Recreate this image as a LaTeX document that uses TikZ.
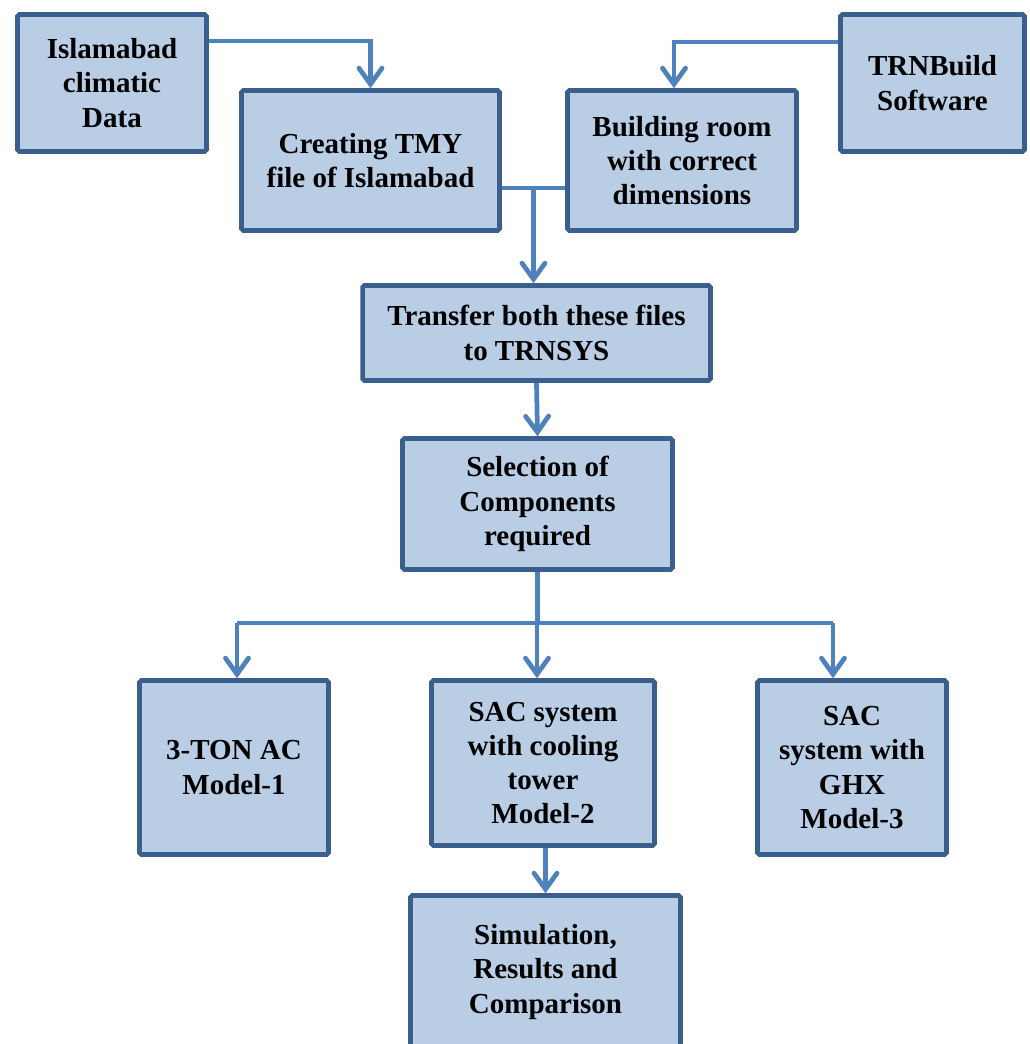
\documentclass[tikz,border=0pt]{standalone}
\usepackage{fontspec}
\setmainfont{Liberation Serif}
\usepackage{xcolor}
\usepackage{tikz}
\usetikzlibrary{arrows.meta,calc}
\definecolor{boxfill}{HTML}{B9CDE5}
\definecolor{boxline}{HTML}{3A5F8C}
\definecolor{linkblue}{HTML}{4F81BD}

\begin{document}
\begin{tikzpicture}[x=0.02cm,y=-0.02cm,
  box/.style={draw=boxline,fill=boxfill,line width=2.6pt,rounded corners=1pt,align=center,inner sep=0pt,
    font=\bfseries\fontsize{16.5}{19.5}\selectfont},
  link/.style={draw=linkblue,line width=2.7pt},
  flow/.style={link,-{Straight Barb[length=0.32cm,width=0.46cm,line cap=round]}}]
  \useasboundingbox (0,0) rectangle (1029,1044);
  \node[box,minimum width=3.78cm,minimum height=2.74cm] (data) at (112,83) {Islamabad\\climatic\\Data};
  \node[box,minimum width=5.16cm,minimum height=2.80cm] (tmy) at (370.5,160.5) {Creating TMY\\file of Islamabad};
  \node[box,minimum width=4.58cm,minimum height=2.80cm] (room) at (682,160.5) {Building room\\with correct\\dimensions};
  \node[box,minimum width=3.68cm,minimum height=2.74cm] (trn) at (932.5,83) {TRNBuild\\Software};
  \node[box,minimum width=6.96cm,minimum height=1.90cm] (transfer) at (536.5,333) {Transfer both these files\\to TRNSYS};
  \node[box,minimum width=5.40cm,minimum height=2.62cm] (select) at (537.5,504) {Selection of\\Components\\required};
  \node[box,minimum width=3.78cm,minimum height=3.48cm] (m1) at (234,767.5) {3-TON AC\\Model-1};
  \node[box,minimum width=4.46cm,minimum height=3.30cm] (m2) at (543,763) {SAC system\\with cooling\\tower\\Model-2};
  \node[box,minimum width=3.78cm,minimum height=3.48cm] (m3) at (852,767.5) {SAC\\system with\\GHX\\Model-3};
  \node[box,minimum width=5.40cm,minimum height=3.06cm] (sim) at (545.5,972) {Simulation,\\Results and\\Comparison};

  % inputs
  \draw[flow] ([yshift=0.84cm]data.east) -| (tmy.north);
  \draw[flow] ([yshift=0.82cm]trn.west) -| ([xshift=-0.16cm]room.north);
  \draw[link] ([yshift=-0.55cm]tmy.east) -- ([yshift=-0.55cm]room.west);
  \coordinate (join) at (533.5,188);
  \draw[flow] (join) -- (join |- transfer.north);
  \draw[flow] (transfer.south) -- (select.north);

  % branches to the three models
  \coordinate (b1) at (237,623);
  \coordinate (b2) at (537,623);
  \coordinate (b3) at (833,623);
  \draw[link] (select.south) -- (select.south |- b2);
  \draw[link] (b1) -- (b3);
  \draw[flow] (b1) -- (b1 |- m1.north);
  \draw[flow] (b2) -- (b2 |- m2.north);
  \draw[flow] (b3) -- (b3 |- m3.north);
  \draw[flow] (sim.north |- m2.south) -- (sim.north);
\end{tikzpicture}
\end{document}
